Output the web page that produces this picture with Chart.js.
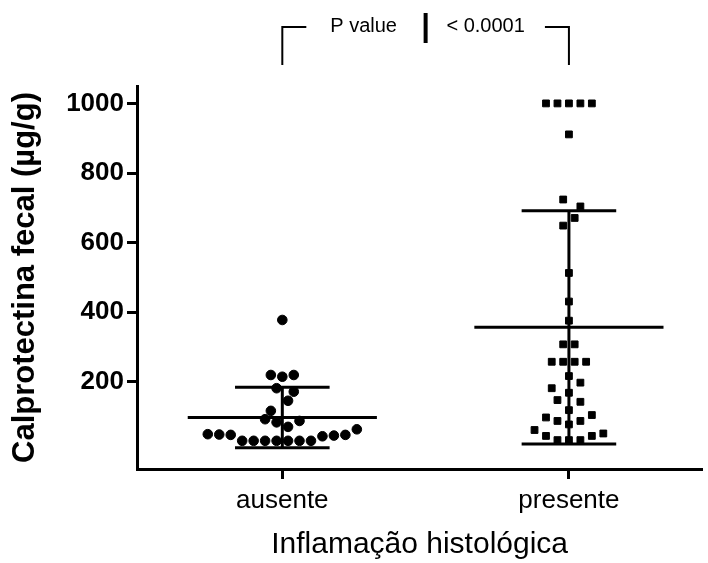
<!DOCTYPE html>
<html>
<head>
<meta charset="utf-8">
<script src="https://cdn.jsdelivr.net/npm/chart.js@4.4.0/dist/chart.umd.min.js"></script>
<style>
  body { margin: 0; background: #fff; }
  #wrap { width: 708px; height: 563px; }
</style>
</head>
<body>
<div id="wrap"><canvas id="calproChart" width="708" height="563"></canvas></div>
<script>
// data
const groups = ['ausente', 'presente'];

// value of each dot and its column in the swarm (0 = centre)
const ausenteValues = [378, 220, 215, 220, 182, 172, 146, 117, 93, 88, 84, 71, 64, 50, 49, 48, 44, 46, 48, 31, 31, 31, 31, 31, 31, 31];
const ausenteCols = [0, -1, 0, 1, -0.5, 1, 0.5, -1, -1.5, 1.5, -0.5, 0.5, 6.5, -6.5, -5.5, -4.5, 3.5, 4.5, 5.5, -3.5, -2.5, -1.5, -0.5, 0.5, 1.5, 2.5];

const presenteValues = [1000, 1000, 1000, 1000, 1000, 911, 724, 704, 671, 649, 513, 431, 376, 308, 308, 258, 258, 258, 258, 217, 198, 182, 169, 148, 143, 119, 105, 98, 88, 88, 78, 62, 52, 45, 45, 33, 33, 33];
const presenteCols = [-2, -1, 0, 1, 2, 0, -0.5, 1, 0.5, -0.5, 0, 0, 0, -0.5, 0.5, -1.5, -0.5, 0.5, 1.5, 0, 1, -1.5, 0, -1, 1, 0, 2, -2, -1, 1, 0, -3, 3, -2, 2, -1, 0, 1];

const groupMeans = [98, 357];
const groupSD = [87, 335];

const yTicks = [200, 400, 600, 800, 1000];
const pLabel = 'P value';
const pText = '< 0.0001';

const COL_STEP = 0.04;   // width of one swarm column in x units
const MEAN_HALF = 0.33;
const CAP_HALF = 0.165;

Chart.defaults.font.family = '"Liberation Sans", Arial, sans-serif';
Chart.defaults.color = '#000';

function swarm(values, cols, g) {
  return values.map((v, i) => ({ x: g + cols[i] * COL_STEP, y: v }));
}

function segment(x1, y1, x2, y2) {
  return {
    type: 'line',
    data: [{ x: x1, y: y1 }, { x: x2, y: y2 }],
    borderColor: '#000',
    borderWidth: 3,
    pointRadius: 0,
    showLine: true,
    order: 0
  };
}

const barSets = [];
groupMeans.forEach((m, i) => {
  const g = i + 1;
  const sd = groupSD[i];
  barSets.push(segment(g - MEAN_HALF, m, g + MEAN_HALF, m));
  barSets.push(segment(g, m - sd, g, m + sd));
  barSets.push(segment(g - CAP_HALF, m + sd, g + CAP_HALF, m + sd));
  barSets.push(segment(g - CAP_HALF, m - sd, g + CAP_HALF, m - sd));
});

const pValuePlugin = {
  id: 'pValue',
  afterDraw(chart) {
    const { ctx } = chart;
    const xs = chart.scales.x;
    const x1 = xs.getPixelForValue(1);
    const x2 = xs.getPixelForValue(2);
    const mid = (x1 + x2) / 2;
    ctx.save();
    ctx.strokeStyle = '#000';
    ctx.lineWidth = 2;
    ctx.beginPath();
    ctx.moveTo(x1, 65); ctx.lineTo(x1, 27); ctx.lineTo(x1 + 24, 27);
    ctx.moveTo(x2 - 24, 27); ctx.lineTo(x2, 27); ctx.lineTo(x2, 65);
    ctx.stroke();
    ctx.lineWidth = 4;
    ctx.beginPath(); ctx.moveTo(mid, 13); ctx.lineTo(mid, 43); ctx.stroke();
    ctx.fillStyle = '#000';
    ctx.font = '20px "Liberation Sans", Arial, sans-serif';
    ctx.textAlign = 'center';
    ctx.textBaseline = 'middle';
    ctx.fillText(pLabel, mid - 62, 26);
    ctx.fillText(pText, mid + 60, 26);
    ctx.restore();
  }
};

new Chart(document.getElementById('calproChart').getContext('2d'), {
  type: 'scatter',
  data: {
    datasets: [
      ...barSets,
      {
        label: 'ausente',
        data: swarm(ausenteValues, ausenteCols, 1),
        pointStyle: 'circle',
        pointRadius: 4.8,
        backgroundColor: '#000',
        borderColor: '#000',
        borderWidth: 1,
        order: 1
      },
      {
        label: 'presente',
        data: swarm(presenteValues, presenteCols, 2),
        pointStyle: 'rect',
        pointRadius: 4.8,
        backgroundColor: '#000',
        borderColor: '#000',
        borderWidth: 1,
        order: 1
      }
    ]
  },
  options: {
    responsive: false,
    animation: false,
    layout: { padding: { top: 86, right: 0, bottom: 0, left: 0 } },
    plugins: { legend: { display: false }, tooltip: { enabled: false } },
    scales: {
      x: {
        type: 'linear',
        min: 0.493,
        max: 2.465,
        afterBuildTicks: s => { s.ticks = [1, 2].map(v => ({ value: v })); },
        afterFit: s => { s.height = 94; },
        ticks: {
          callback: v => groups[v - 1],
          font: { size: 26 },
          padding: 6,
          autoSkip: false,
          maxRotation: 0
        },
        grid: { drawOnChartArea: false, tickLength: 10, tickWidth: 3, tickColor: '#000' },
        border: { display: true, width: 3, color: '#000' },
        title: {
          display: true,
          text: 'Inflamação histológica',
          font: { size: 30 },
          padding: { top: 0, bottom: 0 }
        }
      },
      y: {
        min: -50,
        max: 1050,
        afterBuildTicks: s => { s.ticks = yTicks.map(v => ({ value: v })); },
        afterFit: s => { s.width = 137; },
        ticks: { font: { size: 26, weight: 'bold' }, padding: 3, callback: v => String(v) },
        grid: { drawOnChartArea: false, tickLength: 10, tickWidth: 3, tickColor: '#000' },
        border: { display: true, width: 3, color: '#000' },
        title: {
          display: true,
          text: 'Calprotectina fecal (µg/g)',
          font: { size: 31, weight: 'bold' },
          padding: { top: 7, bottom: 0 }
        }
      }
    }
  },
  plugins: [pValuePlugin]
});
</script>
</body>
</html>
